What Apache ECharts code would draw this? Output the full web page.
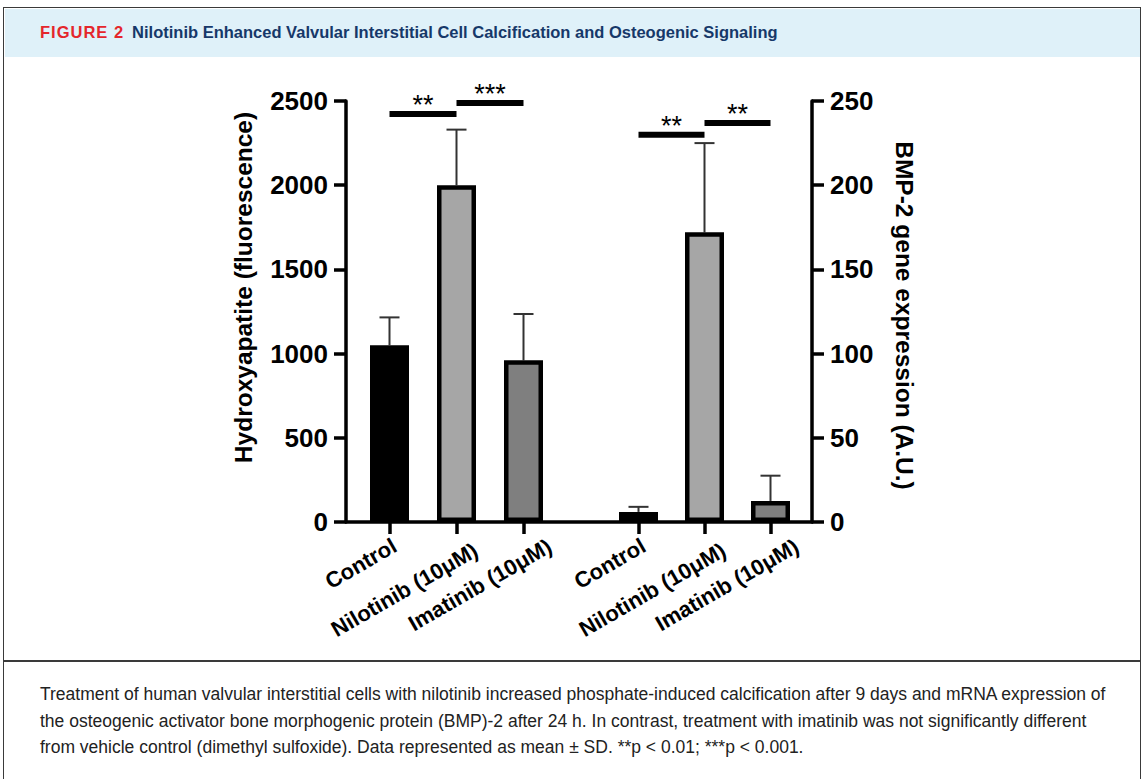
<!DOCTYPE html>
<html><head><meta charset="utf-8">
<script src="https://cdn.jsdelivr.net/npm/echarts@6/dist/echarts.min.js"></script>
<style>
html,body{margin:0;padding:0;background:#fff;width:1144px;height:779px;overflow:hidden;}
#frame{position:absolute;left:3px;top:7px;width:1138px;height:790px;border:1.5px solid #3a3a3a;box-sizing:border-box;}
#header{position:absolute;left:4.5px;top:8.5px;width:1135px;height:48px;background:#dff1f9;}
#title{position:absolute;left:40px;top:23px;font-family:'Liberation Sans Narrow','Liberation Sans',sans-serif;font-weight:bold;font-size:16.5px;white-space:nowrap;line-height:19px;}
#title .fig{color:#e4262c;letter-spacing:1px;margin-right:8px;}
#title .t{color:#163869;}
#sep{position:absolute;left:3px;top:660px;width:1138px;height:1.5px;background:#3a3a3a;}
#caption{position:absolute;left:40px;top:681px;font-family:'Liberation Sans Narrow','Liberation Sans',sans-serif;font-size:17.5px;line-height:26.5px;color:#222;white-space:nowrap;}
#chart{position:absolute;left:0;top:0;width:1144px;height:779px;}
</style></head>
<body>
<div id="frame"></div>
<div id="header"></div>
<div id="title"><span class="fig">FIGURE 2</span><span class="t">Nilotinib Enhanced Valvular Interstitial Cell Calcification and Osteogenic Signaling</span></div>
<div id="sep"></div>
<div id="caption">Treatment of human valvular interstitial cells with nilotinib increased phosphate-induced calcification after 9 days and mRNA expression of<br>the osteogenic activator bone morphogenic protein (BMP)-2 after 24 h. In contrast, treatment with imatinib was not significantly different<br>from vehicle control (dimethyl sulfoxide). Data represented as mean ± SD. **p &lt; 0.01; ***p &lt; 0.001.</div>
<div id="chart"></div>
<script>
const groupLabels = ['Control', 'Nilotinib (10μM)', 'Imatinib (10μM)'];
const hydroxyMean = [1050, 2000, 960];
const hydroxySD = [165, 330, 275];
const bmpMean = [6, 172, 12.5];
const bmpSD = [3, 53, 15];
const barColors = ['#000000', '#a6a6a6', '#7f7f7f'];
// significance brackets: [from index, to index, level, label]
const hydroxySig = [[0, 1, 2423, '**'], [1, 2, 2488, '***']];
const bmpSig = [[0, 1, 230, '**'], [1, 2, 237, '**']];
const leftAxisName = 'Hydroxyapatite (fluorescence)';
const rightAxisName = 'BMP-2 gene expression (A.U.)';
// per-label text style (placement only) to mimic the original label layout
const labelStyles = [
  {padding: [0, -6, 0, 0], verticalAlign: 'middle'},
  {padding: [0, -16, 0, 0], verticalAlign: 'top'},
  {padding: [0, -24, 0, 0], verticalAlign: 'top'}
];

const narrow = "'Liberation Sans Narrow', 'Liberation Sans', Arial, sans-serif";
const sans = "'Liberation Sans', Arial, sans-serif";

const chart = echarts.init(document.getElementById('chart'), null, {renderer: 'svg'});

function errItem(params, api) {
  const x = api.value(0), m = api.value(1), sd = api.value(2);
  const p0 = api.coord([x, m]);
  const p1 = api.coord([x, m + sd]);
  const cap = 10;
  return {type: 'group', children: [
    {type: 'line', shape: {x1: p0[0], y1: p0[1], x2: p1[0], y2: p1[1]}, style: {stroke: '#333', lineWidth: 2}},
    {type: 'line', shape: {x1: p1[0] - cap, y1: p1[1], x2: p1[0] + cap, y2: p1[1]}, style: {stroke: '#333', lineWidth: 2}}
  ]};
}
function sigFactory(list) {
  return function (params, api) {
    const a = api.coord([api.value(0), api.value(2)]);
    const b = api.coord([api.value(1), api.value(2)]);
    return {type: 'group', children: [
      {type: 'line', shape: {x1: a[0], y1: a[1], x2: b[0], y2: b[1]}, style: {stroke: '#000', lineWidth: 6}},
      {type: 'text', x: (a[0] + b[0]) / 2, y: a[1] - 9, style: {text: list[params.dataIndex][3], align: 'center', verticalAlign: 'middle', fontSize: 27, fontFamily: sans, fill: '#000'}}
    ]};
  };
}
function barData(vals) {
  return vals.map((v, i) => ({value: v, itemStyle: {color: barColors[i]}}));
}
const catAxis = (gi) => ({
  gridIndex: gi, type: 'category',
  data: groupLabels.map((v, i) => ({value: v, textStyle: labelStyles[i]})),
  axisLine: {show: false},
  axisTick: {show: true, alignWithLabel: true, length: 12, lineStyle: {width: 3.5, color: '#000'}},
  axisLabel: {rotate: 30, fontSize: 22, fontWeight: 'bold', color: '#000', margin: 25, fontFamily: sans, interval: 0}
});
const tickFmt = v => String(v);

const option = {
  animation: false,
  grid: [
    {left: 346, top: 101, width: 466, height: 421},
    {left: 356, top: 101, width: 201, height: 421},
    {left: 605.5, top: 101, width: 198, height: 421}
  ],
  xAxis: [
    {gridIndex: 0, type: 'value', min: 0, max: 1, axisLine: {show: true, onZero: false, lineStyle: {color: '#000', width: 3.5}}, axisTick: {show: false}, axisLabel: {show: false}, splitLine: {show: false}},
    catAxis(1), catAxis(2)
  ],
  yAxis: [
    {gridIndex: 0, type: 'value', min: 0, max: 2500, interval: 500, position: 'left',
     name: leftAxisName, nameLocation: 'middle', nameGap: 90,
     nameTextStyle: {fontSize: 24.5, fontWeight: 'bold', color: '#000', fontFamily: sans, padding: [0, 0, 0, 48]},
     axisLine: {show: true, lineStyle: {color: '#000', width: 3.5}},
     axisTick: {show: true, length: 12, lineStyle: {color: '#000', width: 3.5}},
     axisLabel: {fontSize: 26, fontWeight: 'bold', color: '#000', fontFamily: narrow, margin: 18, formatter: tickFmt},
     splitLine: {show: false}},
    {gridIndex: 0, type: 'value', min: 0, max: 250, interval: 50, position: 'right',
     name: rightAxisName, nameLocation: 'middle', nameGap: 80, nameRotate: -90,
     nameTextStyle: {fontSize: 24.5, fontWeight: 'bold', color: '#000', fontFamily: sans, padding: [0, 0, 0, 8]},
     axisLine: {show: true, lineStyle: {color: '#000', width: 3.5}},
     axisTick: {show: true, length: 12, lineStyle: {color: '#000', width: 3.5}},
     axisLabel: {fontSize: 26, fontWeight: 'bold', color: '#000', fontFamily: narrow, margin: 18, formatter: tickFmt},
     splitLine: {show: false}},
    {gridIndex: 1, type: 'value', min: 0, max: 2500, show: false},
    {gridIndex: 2, type: 'value', min: 0, max: 250, show: false}
  ],
  series: [
    {type: 'custom', xAxisIndex: 1, yAxisIndex: 2, z: 1, renderItem: errItem,
     data: hydroxyMean.map((m, i) => [i, m, hydroxySD[i]])},
    {type: 'bar', xAxisIndex: 1, yAxisIndex: 2, z: 2, barWidth: 39, data: barData(hydroxyMean),
     itemStyle: {borderColor: '#000', borderWidth: 4.5}},
    {type: 'custom', xAxisIndex: 1, yAxisIndex: 2, z: 3, renderItem: sigFactory(hydroxySig),
     data: hydroxySig.map(s => [s[0], s[1], s[2]])},
    {type: 'custom', xAxisIndex: 2, yAxisIndex: 3, z: 1, renderItem: errItem,
     data: bmpMean.map((m, i) => [i, m, bmpSD[i]])},
    {type: 'bar', xAxisIndex: 2, yAxisIndex: 3, z: 2, barWidth: 39, data: barData(bmpMean),
     itemStyle: {borderColor: '#000', borderWidth: 4.5}},
    {type: 'custom', xAxisIndex: 2, yAxisIndex: 3, z: 3, renderItem: sigFactory(bmpSig),
     data: bmpSig.map(s => [s[0], s[1], s[2]])}
  ]
};
chart.setOption(option);
</script>
</body></html>
